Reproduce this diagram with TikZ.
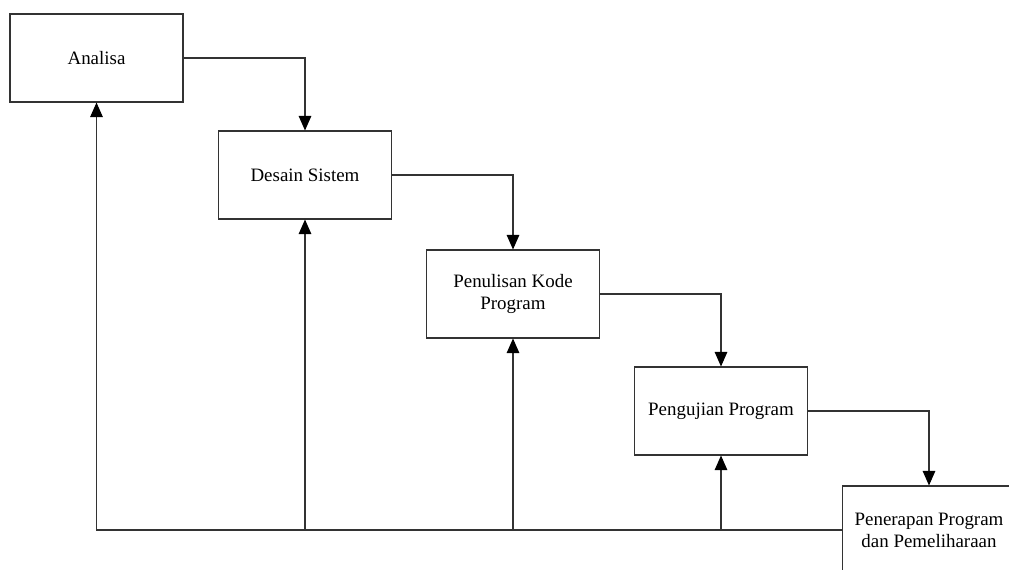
\documentclass[tikz,border=0pt]{standalone}
\usepackage{fontspec}
\setmainfont{Liberation Serif}
\usetikzlibrary{arrows.meta}
\begin{document}
\begin{tikzpicture}[x=0.75pt,y=-0.75pt,
  box/.style={draw=black!80, line width=0.8pt, fill=white, minimum width=129.75pt, minimum height=66pt, inner sep=0pt, align=center, font=\fontsize{14.2}{16.5}\selectfont},
  conn/.style={draw=black!80, line width=0.8pt},
  arr/.style={conn, -{Triangle[length=11pt, width=9.5pt, color=black]}}]
\useasboundingbox (0,0) rectangle (1009,570);
\clip (0,0) rectangle (1009,570);
\node[box] (ana) at (96.5,58) {Analisa};
\node[box] (des) at (305,175) {Desain Sistem};
\node[box] (kode) at (513,294) {Penulisan Kode\\Program};
\node[box] (uji) at (721,411) {Pengujian Program};
\node[box] (ter) at (929,530) {Penerapan Program\\dan Pemeliharaan};
\draw[arr] (ana.east) -| (des.north);
\draw[arr] (des.east) -| (kode.north);
\draw[arr] (kode.east) -| (uji.north);
\draw[arr] (uji.east) -| (ter.north);
\draw[arr] (ter.west) -| (ana.south);
\draw[arr] (des.south |- ter.west) -- (des.south);
\draw[arr] (kode.south |- ter.west) -- (kode.south);
\draw[arr] (uji.south |- ter.west) -- (uji.south);
\end{tikzpicture}
\end{document}
